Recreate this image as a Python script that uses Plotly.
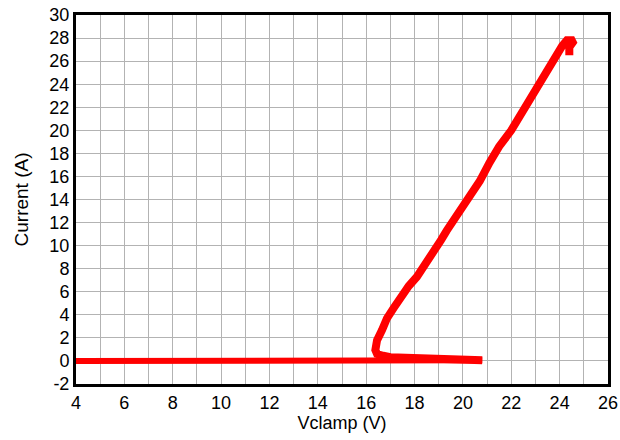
import plotly.graph_objects as go

# Baseline (off-state) sweep
base_v = [4.0, 8.0, 12.0, 16.0, 18.0, 20.0, 20.8]
base_i = [0.0, 0.0, 0.0, 0.0, 0.02, 0.03, 0.05]

# Snapback tail and clamp rise
clamp_v = [20.8, 19.5, 18.0, 17.0, 16.7, 16.45, 16.38, 16.45, 16.66, 16.86, 17.14, 17.42,
           17.76, 18.1, 18.5, 18.8, 19.1, 19.33, 19.88, 20.36, 20.7, 21.1, 21.5, 22.0, 22.5,
           22.87, 23.21, 23.49, 23.83, 24.1, 24.3, 24.6, 24.4, 24.4]
clamp_i = [0.05, 0.12, 0.2, 0.32, 0.45, 0.6, 0.95, 1.8, 2.7, 3.7, 4.6, 5.6,
           6.5, 7.3, 8.5, 9.5, 10.5, 11.3, 13.0, 14.4, 15.6, 17.2, 18.6, 20.0, 21.8,
           23.0, 24.1, 25.3, 26.5, 27.3, 27.8, 27.8, 27.2, 26.5]

x_ticks = [4, 6, 8, 10, 12, 14, 16, 18, 20, 22, 24, 26]
y_ticks = [-2, 0, 2, 4, 6, 8, 10, 12, 14, 16, 18, 20, 22, 24, 26, 28, 30]

red = "#ff0000"
fig = go.Figure()
fig.add_trace(go.Scatter(x=base_v, y=base_i, mode="lines",
                         line=dict(color=red, width=6), showlegend=False))
fig.add_trace(go.Scatter(x=clamp_v, y=clamp_i, mode="lines",
                         line=dict(color=red, width=8), showlegend=False))

fam = "Liberation Sans, Arial, sans-serif"
tickfont = dict(family=fam, size=18, color="black")
axis_common = dict(showline=True, linecolor="black", linewidth=3, mirror=True,
                   gridcolor="#b3b3b3", gridwidth=1, zeroline=False, ticks="",
                   tickfont=tickfont, automargin=False)

fig.update_layout(
    width=620, height=440,
    margin=dict(l=76, r=12, t=15, b=56),
    paper_bgcolor="white", plot_bgcolor="white",
    font=dict(family=fam, color="black"),
    xaxis=dict(range=[4, 26], tickvals=x_ticks, ticktext=[str(v) for v in x_ticks],
               minor=dict(dtick=1, tick0=0, showgrid=True, gridcolor="#b3b3b3", gridwidth=1),
               title=dict(text="Vclamp (V)", font=dict(family=fam, size=18, color="black"),
                          standoff=3), **axis_common),
    yaxis=dict(range=[-2, 30], tickvals=y_ticks, ticktext=[str(v) for v in y_ticks],
               title=dict(text="Current (A)", font=dict(family=fam, size=19, color="black"),
                          standoff=16), **axis_common),
)

fig.write_html("out.html")
